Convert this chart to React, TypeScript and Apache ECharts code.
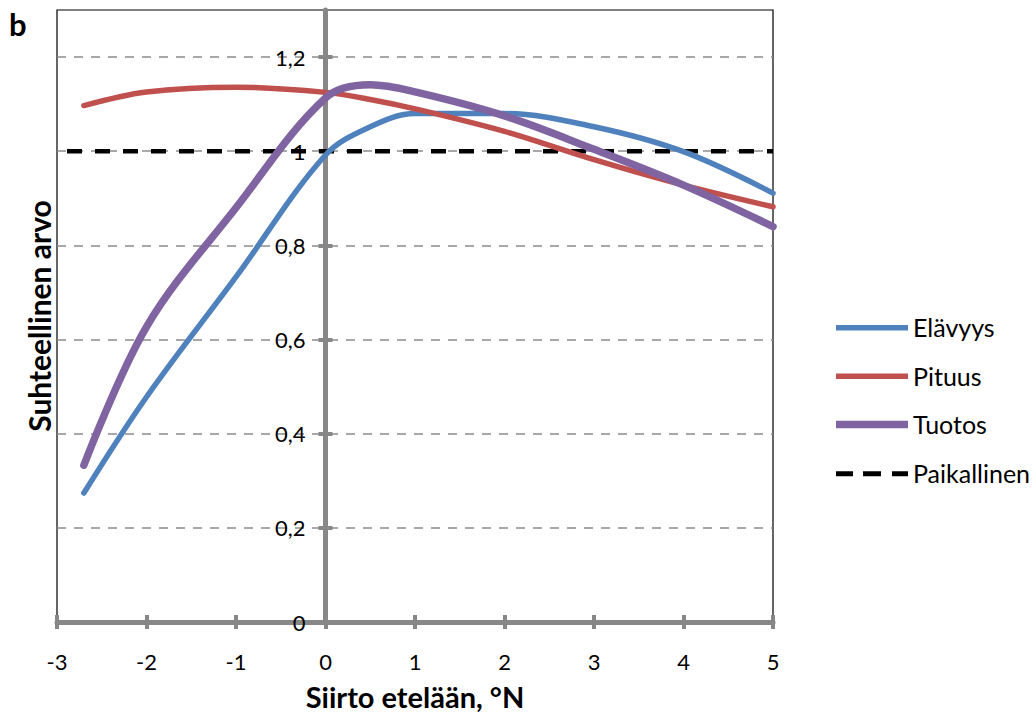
import React, { useEffect, useRef } from "react";
import * as echarts from "echarts";

// Siirto etelään (°N) and relative values of each trait
const xs = [-2.7, -2, -1, 0, 0.5, 1, 2, 3, 4, 5];
const elavyys = [0.274, 0.478, 0.733, 0.992, 1.052, 1.08, 1.08, 1.052, 0.999, 0.911];
const pituus = [1.097, 1.126, 1.136, 1.125, 1.11, 1.09, 1.042, 0.982, 0.928, 0.882];
const tuotos = [0.333, 0.627, 0.88, 1.113, 1.141, 1.126, 1.075, 1.004, 0.928, 0.84];
const paikallinenX = [-3, 5];
const paikallinen = [1, 1];

const yTicks = [0, 0.2, 0.4, 0.6, 0.8, 1, 1.2];
const xTicks = [-3, -2, -1, 0, 1, 2, 3, 4, 5];
const X_MIN = -3;
const X_MAX = 5;

const FONT = "Lato, 'Noto Sans', sans-serif";
const GRAY = "#878787";

// plot box
const GRID_LEFT = 57;
const GRID_WIDTH = 716;
// the value axis crosses the horizontal axis at x = 0
const Y_AXIS_SHIFT = (GRID_WIDTH * (0 - X_MIN)) / (X_MAX - X_MIN);

// legend swatches (72 x 8 box; the hair-thin strip pins the box height)
const PIN = "M0,0H72V0.01H0Z";
const solidIcon = (h: number) => `path://${PIN}M0,${4 - h / 2}H72V${4 + h / 2}H0Z`;
const dashIcon = `path://${PIN}M0,1.5H17V6.5H0ZM27,1.5H45V6.5H27ZM56,1.5H72V6.5H56Z`;

const pairs = (x: number[], y: number[]) => x.map((v, i) => [v, y[i]]);
const fmt = (v: number) => String(Number(v.toFixed(1))).replace(".", ",");

export default function App() {
  const ref = useRef<HTMLDivElement>(null);

  useEffect(() => {
    if (!ref.current) return;
    const chart = echarts.init(ref.current, null, { renderer: "svg" });

    const xBase = {
      type: "value",
      min: X_MIN,
      max: X_MAX,
      interval: 1,
      splitLine: { show: false },
    };
    const yBase = {
      type: "value",
      min: 0,
      max: 1.3,
      interval: 0.2,
      position: "left",
      offset: -Y_AXIS_SHIFT,
    };
    const tickStyle = { color: GRAY, width: 4 };
    const axisLineStyle = { color: GRAY, width: 5 };

    chart.setOption({
      animation: false,
      grid: {
        left: GRID_LEFT,
        top: 10,
        width: GRID_WIDTH,
        height: 612,
        outerBoundsMode: "none",
        containLabel: false,
        show: true,
        borderColor: "#000",
        borderWidth: 1.2,
        backgroundColor: "transparent",
      },
      xAxis: [
        {
          ...xBase,
          position: "bottom",
          axisLine: { show: true, onZero: false, lineStyle: axisLineStyle },
          axisTick: { show: true, length: 7, lineStyle: tickStyle, customValues: xTicks },
          axisLabel: {
            customValues: xTicks,
            margin: 28,
            color: "#000",
            fontSize: 22,
            fontFamily: FONT,
          },
          name: "Siirto etelään, °N",
          nameLocation: "middle",
          nameGap: 60,
          nameTextStyle: { fontSize: 29, fontWeight: "bold", color: "#000", fontFamily: FONT },
        },
        {
          ...xBase,
          position: "bottom",
          axisLine: { show: false, onZero: false },
          axisTick: { show: true, inside: true, length: 7, lineStyle: tickStyle, customValues: xTicks },
          axisLabel: { show: false },
        },
      ],
      yAxis: [
        {
          ...yBase,
          axisLine: { show: true, onZero: false, lineStyle: axisLineStyle },
          axisTick: { show: true, length: 7, lineStyle: tickStyle, customValues: yTicks },
          axisLabel: {
            customValues: yTicks,
            formatter: (v: number) => fmt(v),
            margin: 20,
            color: "#000",
            fontSize: 22,
            fontFamily: FONT,
          },
          splitLine: {
            show: true,
            showMinLine: false,
            showMaxLine: true,
            lineStyle: { color: "#8c8c8c", width: 1.5, type: [9, 8] },
          },
          name: "Suhteellinen arvo",
          nameLocation: "middle",
          nameGap: 272,
          nameTextStyle: { fontSize: 30, fontWeight: "bold", color: "#000", fontFamily: FONT },
        },
        {
          ...yBase,
          axisLine: { show: false, onZero: false },
          axisTick: { show: true, inside: true, length: 7, lineStyle: tickStyle, customValues: yTicks },
          axisLabel: { show: false },
          splitLine: { show: false },
        },
      ],
      legend: {
        orient: "vertical",
        left: 831,
        top: 309,
        padding: 5,
        itemWidth: 72,
        itemHeight: 8,
        itemGap: 22.7,
        textStyle: { fontSize: 25, lineHeight: 26, color: "#000", fontFamily: FONT },
        data: [
          { name: "Elävyys", icon: solidIcon(5.5) },
          { name: "Pituus", icon: solidIcon(5.5) },
          { name: "Tuotos", icon: solidIcon(7.5) },
          { name: "Paikallinen", icon: dashIcon },
        ],
      },
      graphic: [
        {
          type: "text",
          left: 9,
          top: 8,
          style: { text: "b", font: `bold 31px ${FONT}`, fill: "#000" },
        },
      ],
      series: [
        {
          name: "Paikallinen",
          type: "line",
          data: pairs(paikallinenX, paikallinen),
          symbol: "none",
          lineStyle: { color: "#000", width: 4.5, type: [15, 13], dashOffset: -10 },
          itemStyle: { color: "#000" },
          z: 3,
        },
        {
          name: "Elävyys",
          type: "line",
          data: pairs(xs, elavyys),
          smooth: 0.35,
          symbol: "none",
          lineStyle: { color: "#4F81BD", width: 5.5, cap: "round" },
          itemStyle: { color: "#4F81BD" },
          z: 4,
        },
        {
          name: "Pituus",
          type: "line",
          data: pairs(xs, pituus),
          smooth: 0.35,
          symbol: "none",
          lineStyle: { color: "#C0504D", width: 5.5, cap: "round" },
          itemStyle: { color: "#C0504D" },
          z: 4,
        },
        {
          name: "Tuotos",
          type: "line",
          data: pairs(xs, tuotos),
          smooth: 0.35,
          symbol: "none",
          lineStyle: { color: "#8064A2", width: 7.5, cap: "round" },
          itemStyle: { color: "#8064A2" },
          z: 5,
        },
      ],
    });

    return () => chart.dispose();
  }, []);

  return (
    <div
      ref={ref}
      style={{ position: "absolute", left: 0, top: 0, width: 1033, height: 715, background: "#fff" }}
    />
  );
}
